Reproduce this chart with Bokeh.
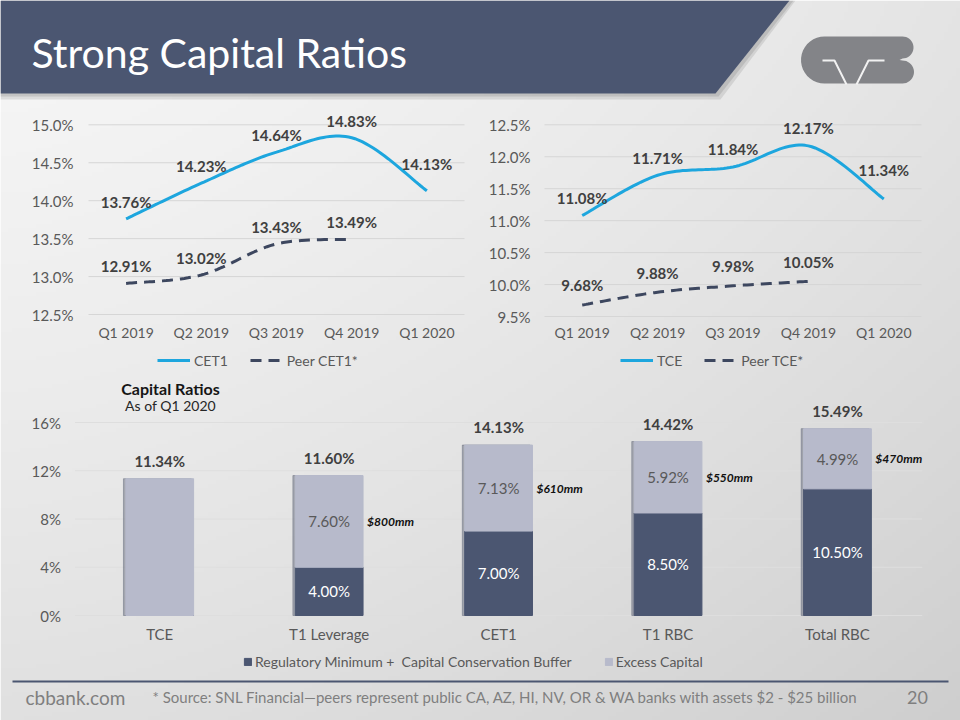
import numpy as np
from bokeh.plotting import figure
from bokeh.models import (Range1d, Legend, LegendItem, ColumnDataSource)
from bokeh.transform import dodge
from bokeh.core.properties import value
from bokeh.embed import file_html
from bokeh.resources import INLINE

# ---------------- data ----------------
quarters = ["Q1 2019", "Q2 2019", "Q3 2019", "Q4 2019", "Q1 2020"]
cet1 = [13.76, 14.23, 14.64, 14.83, 14.13]
peer_cet1 = [12.91, 13.02, 13.43, 13.49]
tce = [11.08, 11.71, 11.84, 12.17, 11.34]
peer_tce = [9.68, 9.88, 9.98, 10.05]
cet1_ticks = [12.5, 13.0, 13.5, 14.0, 14.5, 15.0]
tce_ticks = [9.5, 10.0, 10.5, 11.0, 11.5, 12.0, 12.5]

bar_categories = ["TCE", "T1 Leverage", "CET1", "T1 RBC", "Total RBC"]
reg_minimum = [0.0, 4.00, 7.00, 8.50, 10.50]
excess_capital = [11.34, 7.60, 7.13, 5.92, 4.99]
bar_totals = [11.34, 11.60, 14.13, 14.42, 15.49]
excess_dollars = ["", "$800mm", "$610mm", "$550mm", "$470mm"]
bar_ticks = [0, 4, 8, 12, 16]

# ---------------- styles ----------------
W, H = 960, 720
FONT = "Lato"
SLATE = "#4b5671"
CYAN = "#1da6de"
PEER = "#3d475f"
LIGHT = "#b7bacb"
AXIS_TXT = "#595959"
LBL_TXT = "#404040"


def xr(v0, p0, v1, p1):
    k = (v1 - v0) / (p1 - p0)
    return Range1d(v0 - p0 * k, v0 + (W - p0) * k)


def yr(v0, p0, v1, p1):
    # p measured in pixels from the top of the figure
    k = (v1 - v0) / (p1 - p0)
    return Range1d(v0 + (H - p0) * k, v0 - p0 * k)


def smooth(xs, ys, n=24):
    """Catmull-Rom rendering of a line through the data points (Excel-style smoothed line)."""
    xs = np.asarray(xs, float)
    ys = np.asarray(ys, float)
    px = np.concatenate([[xs[0]], xs, [xs[-1]]])
    py = np.concatenate([[ys[0]], ys, [ys[-1]]])
    ox, oy = [], []
    nseg = len(xs) - 1
    for i in range(1, nseg + 1):
        t = np.linspace(0, 1, n, endpoint=(i == nseg))
        for arr, out in ((px, ox), (py, oy)):
            p0, p1, p2, p3 = arr[i - 1:i + 3]
            out.extend(0.5 * (2 * p1 + (-p0 + p2) * t + (2 * p0 - 5 * p1 + 4 * p2 - p3) * t ** 2
                              + (-p0 + 3 * p1 - 3 * p2 + p3) * t ** 3))
    return ox, oy


p = figure(width=W, height=H, x_range=Range1d(0, W), y_range=Range1d(0, H),
           output_backend="svg", toolbar_location=None,
           x_axis_location=None, y_axis_location=None, min_border=0)
p.background_fill_color = None
p.border_fill_color = None
p.outline_line_color = None
p.grid.visible = False

p.extra_x_ranges = {
    "pix": Range1d(0, W),
    "lx": xr(-0.5, 88, 4.5, 464),
    "rx": xr(-0.5, 544, 4.5, 921),
    "bx": xr(-0.5, 74.5, 4.5, 921.7),
}
p.extra_y_ranges = {
    "top": yr(0, 0, H, H),
    "ly": yr(15.0, 124.3, 12.5, 314),
    "ry": yr(12.5, 124.3, 9.5, 316),
    "by": yr(16, 422, 0, 615),
}

# ---------------- background gradient ----------------
gh, gw = 180, 240
yy, xx = np.mgrid[0:gh, 0:gw]
top_frac = 1.0 - (yy + 0.5) / gh          # row 0 is at the bottom of the figure
x_frac = (xx + 0.5) / gw
g = 246 - 18 * x_frac ** 1.5 - 22 * top_frac ** 1.3
img = np.empty((gh, gw), dtype=np.uint32)
v = img.view(dtype=np.uint8).reshape((gh, gw, 4))
v[:, :, 0] = g.astype(np.uint8)
v[:, :, 1] = g.astype(np.uint8)
v[:, :, 2] = g.astype(np.uint8)
v[:, :, 3] = 255
p.image_rgba(image=[img], x=0, y=0, dw=W, dh=H)

PIX = dict(x_range_name="pix", y_range_name="top")

# ---------------- header ----------------
p.patch([0, 795, 720, 0], [0, 0, 99, 99], color="#6f6f6f", alpha=0.18, line_color=None, **PIX)
p.patch([0, 793, 718, 0], [0, 0, 96, 96], color="#7a7a7a", alpha=0.25, line_color=None, **PIX)
p.patch([0, 789, 715, 0], [0, 0, 93, 93], color=SLATE, line_color=None, **PIX)
p.text(x=[31], y=[52], text=["Strong Capital Ratios"], text_align="left",
       text_baseline="middle", text_font=value(FONT), text_font_size="41px",
       text_color="#ffffff", **PIX)

# logo (decoration)
t = np.linspace(0, np.pi, 20)
lx_ = ([824, 902] + list(902 + 11 * np.sin(t)) + [899]
       + list(902 + 11.5 * np.sin(t)) + [824] + list(824 - 23.5 * np.sin(t)))
ly_ = ([36, 36] + list(47 - 11 * np.cos(t)) + [59.5]
       + list(71.5 - 11.5 * np.cos(t)) + [83] + list(59.5 + 23.5 * np.cos(t)))
p.patch(lx_, ly_, color="#838488", line_color=None, **PIX)
p.line([822, 834, 846], [60, 60, 84], line_color="#f1f1f1", line_width=2, **PIX)
p.line([856, 868, 884], [84, 60, 60], line_color="#f1f1f1", line_width=2, **PIX)


# ---------------- line charts ----------------
def line_chart(xn, yn, ticks, main, peer, main_name, peer_name, main_dy, peer_dy,
               last_dy, tick_dx, xlab_dy, leg_x):
    n = len(ticks)
    p.segment(x0=[-0.5] * n, x1=[4.5] * n, y0=ticks, y1=ticks, line_color="#d6d6d6",
              line_width=1, x_range_name=xn, y_range_name=yn)
    p.text(x=[-0.5] * n, y=ticks, text=[f"{v:.1f}%" for v in ticks], x_offset=tick_dx,
           text_align="right", text_baseline="middle", text_font=value(FONT),
           text_font_size="15px", text_color=AXIS_TXT, x_range_name=xn, y_range_name=yn)
    p.text(x=list(range(len(quarters))), y=[ticks[0]] * len(quarters), text=quarters,
           y_offset=xlab_dy, text_align="center", text_baseline="middle",
           text_font=value(FONT), text_font_size="14px", text_color=AXIS_TXT,
           x_range_name=xn, y_range_name=yn)

    mx, my = smooth(range(len(main)), main)
    r1 = p.line(mx, my, line_color=CYAN, line_width=3, x_range_name=xn, y_range_name=yn)
    qx, qy = smooth(range(len(peer)), peer)
    r2 = p.line(qx, qy, line_color=PEER, line_width=3, line_dash="11 7",
                x_range_name=xn, y_range_name=yn)

    src_m = ColumnDataSource(dict(x=list(range(len(main))), y=main,
                                  t=[f"{v:.2f}%" for v in main],
                                  dy=[main_dy] * (len(main) - 1) + [last_dy]))
    src_p = ColumnDataSource(dict(x=list(range(len(peer))), y=peer,
                                  t=[f"{v:.2f}%" for v in peer], dy=[peer_dy] * len(peer)))
    for src in (src_m, src_p):
        p.text(x="x", y="y", text="t", source=src, y_offset="dy",
               text_align="center", text_baseline="middle", text_font=value(FONT),
               text_font_style="bold", text_font_size="15px", text_color=LBL_TXT,
               x_range_name=xn, y_range_name=yn)

    leg = Legend(items=[LegendItem(label=main_name, renderers=[r1]),
                        LegendItem(label=peer_name, renderers=[r2])],
                 orientation="horizontal", location=(leg_x, 351), margin=0, padding=0,
                 spacing=22, glyph_width=33, glyph_height=14, label_height=18,
                 label_standoff=4, label_text_font=FONT, label_text_font_size="14px",
                 label_text_color=AXIS_TXT, background_fill_alpha=0, border_line_color=None)
    p.add_layout(leg)


line_chart("lx", "ly", cet1_ticks, cet1, peer_cet1, "CET1", "Peer CET1*",
           -17, -17, -27, -15, 18, 157)
line_chart("rx", "ry", tce_ticks, tce, peer_tce, "TCE", "Peer TCE*",
           -17.5, -19.5, -29, -14, 16, 620)

# ---------------- bar chart ----------------
BX = dict(x_range_name="bx", y_range_name="by")
nb = len(bar_ticks)
p.segment(x0=[-0.5] * nb, x1=[4.5] * nb, y0=bar_ticks, y1=bar_ticks, line_color="#dedede",
          line_width=1, **BX)
p.text(x=[-0.5] * nb, y=bar_ticks, text=[f"{v}%" for v in bar_ticks], x_offset=-14,
       text_align="right", text_baseline="middle", text_font=value(FONT),
       text_font_size="15px", text_color=AXIS_TXT, **BX)
xs = list(range(len(bar_categories)))
p.text(x=xs, y=[0] * len(xs), text=bar_categories, y_offset=18, text_align="center",
       text_baseline="middle", text_font=value(FONT), text_font_size="15px",
       text_color=AXIS_TXT, **BX)

bsrc = ColumnDataSource(dict(x=xs, reg=reg_minimum, excess=excess_capital, total=bar_totals))
# soft shadow on the left edge of each bar
p.vbar(x=dodge("x", -0.014), top="total", width=0.4, source=bsrc, color="#6d7284",
       alpha=0.55, **BX)
rs = p.vbar_stack(["reg", "excess"], x="x", width=0.4, color=[SLATE, LIGHT], source=bsrc, **BX)

p.text(x=xs, y=bar_totals, text=[f"{v:.2f}%" for v in bar_totals], y_offset=-18,
       text_align="center", text_baseline="middle", text_font=value(FONT),
       text_font_style="bold", text_font_size="15px", text_color=LBL_TXT, **BX)

ex_idx = [i for i in xs if reg_minimum[i] > 0]
p.text(x=ex_idx, y=[reg_minimum[i] + excess_capital[i] / 2 for i in ex_idx],
       text=[f"{excess_capital[i]:.2f}%" for i in ex_idx],
       text_align="center", text_baseline="middle", text_font=value(FONT),
       text_font_size="15px", text_color=AXIS_TXT, **BX)
p.text(x=ex_idx, y=[reg_minimum[i] / 2 for i in ex_idx],
       text=[f"{reg_minimum[i]:.2f}%" for i in ex_idx],
       text_align="center", text_baseline="middle", text_font=value(FONT),
       text_font_size="15px", text_color="#ffffff", **BX)
p.text(x=[i + 0.2 for i in ex_idx], y=[reg_minimum[i] + excess_capital[i] / 2 for i in ex_idx],
       text=[excess_dollars[i] for i in ex_idx], x_offset=4,
       text_align="left", text_baseline="middle", text_font=value(FONT),
       text_font_style="bold italic", text_font_size="12px", text_color="#111111", **BX)

p.text(x=[170], y=[388], text=["Capital Ratios"], text_align="center",
       text_baseline="middle", text_font=value(FONT), text_font_style="bold",
       text_font_size="16px", text_color="#151515", **PIX)
p.text(x=[170], y=[405], text=["As of Q1 2020"], text_align="center",
       text_baseline="middle", text_font=value(FONT), text_font_size="14px",
       text_color="#262626", **PIX)

bleg = Legend(items=[LegendItem(label="Regulatory Minimum +  Capital Conservation Buffer",
                                renderers=[rs[0]]),
                     LegendItem(label="Excess Capital", renderers=[rs[1]])],
              orientation="horizontal", location=(243, 50), margin=0, padding=0,
              spacing=32, glyph_width=9, glyph_height=9, label_height=18, label_standoff=3,
              label_text_font=FONT, label_text_font_size="14px", label_text_color=AXIS_TXT,
              background_fill_alpha=0, border_line_color=None)
p.add_layout(bleg)

# ---------------- footer ----------------
p.line([12, 948], [681, 681], line_color=SLATE, line_width=2, **PIX)
p.text(x=[25], y=[697], text=["cbbank.com"], text_align="left", text_baseline="middle",
       text_font=value(FONT), text_font_size="19px", text_color="#7f7f7f", **PIX)
p.text(x=[152], y=[696],
       text=["* Source: SNL Financial\u2014peers represent public CA, AZ, HI, NV, OR & WA banks with assets $2 - $25 billion"],
       text_align="left", text_baseline="middle", text_font=value(FONT),
       text_font_size="15px", text_color="#7f7f7f", **PIX)
p.text(x=[917], y=[697], text=["20"], text_align="center", text_baseline="middle",
       text_font=value(FONT), text_font_size="18px", text_color="#7f7f7f", **PIX)

open("out.html", "w").write(file_html(p, INLINE))
